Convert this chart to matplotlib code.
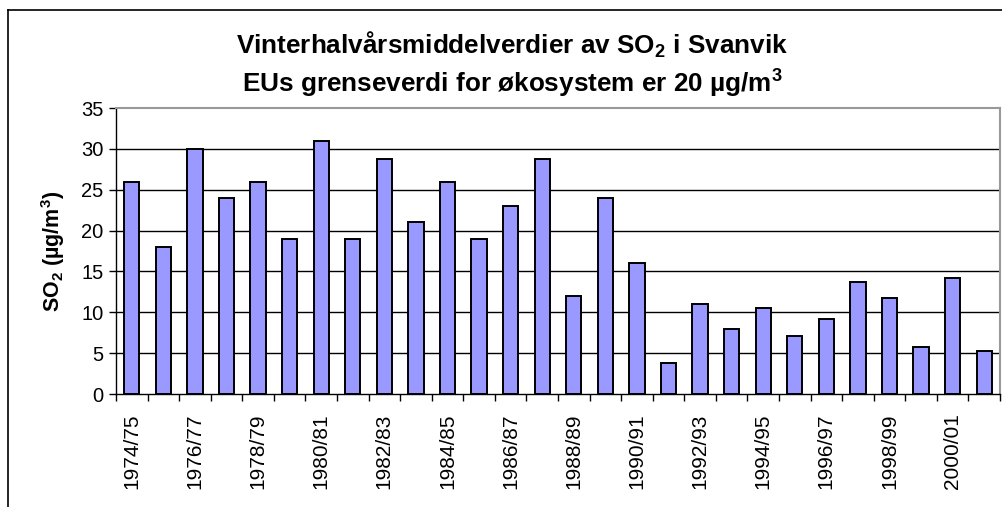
import matplotlib
matplotlib.use("Agg")
import matplotlib.pyplot as plt
from matplotlib.lines import Line2D
import numpy as np

# winter half-year means, SO2 in Svanvik
seasons = [f"{y}/{str(y + 1)[-2:]}" for y in range(1974, 2002)]
so2 = [26, 18, 30, 24, 26, 19, 31, 19, 28.8, 21, 26, 19, 23, 28.8,
       12, 24, 16, 3.8, 11, 8, 10.5, 7.1, 9.2, 13.7, 11.7, 5.8, 14.2, 5.3]
yticks = [0, 5, 10, 15, 20, 25, 30, 35]

plt.rcParams["font.family"] = ["Liberation Sans", "DejaVu Sans"]
plt.rcParams["mathtext.fontset"] = "custom"
plt.rcParams["mathtext.rm"] = "Liberation Sans"
plt.rcParams["mathtext.bf"] = "Liberation Sans:bold"

W, H = 1003, 507
fig = plt.figure(figsize=(W / 100, H / 100), dpi=100)
ax = fig.add_axes([116 / W, 1 - 394 / H, (1000 - 116) / W, (394 - 108) / H])

x = np.arange(len(so2))
ax.bar(x, so2, width=0.48, color="#9999FF", edgecolor="black", linewidth=1.4, zorder=3)

ax.set_xlim(-0.5, len(so2) - 0.5)
ax.set_ylim(0, 35)
ax.set_yticks(yticks)
ax.tick_params(axis="y", labelsize=14.5, length=5, width=1, direction="out", pad=4)
for v in yticks[1:-1]:
    ax.axhline(v, color="black", lw=1, zorder=1)

# Excel style: ticks between categories, labels on every other one
ax.set_xticks(np.arange(len(so2) + 1) - 0.5)
ax.set_xticklabels([])
ax.set_xticks(x[::2], minor=True)
ax.set_xticklabels(seasons[::2], minor=True, rotation=90, fontsize=15)
ax.tick_params(axis="x", which="major", length=5, width=1, direction="out")
ax.tick_params(axis="x", which="minor", length=0, pad=14)

for s in ["top", "right"]:
    ax.spines[s].set_color("#999999")
    ax.spines[s].set_linewidth(1.5)
for s in ["left", "bottom"]:
    ax.spines[s].set_color("black")
    ax.spines[s].set_linewidth(1)

ax.set_ylabel(r"SO$_\mathbf{2}$ (µg/m$^\mathbf{3}$)", fontsize=15.5, fontweight="bold", labelpad=10)

fig.text(512 / W, 1 - 53 / H, r"Vinterhalvårsmiddelverdier av SO$_\mathbf{2}$ i Svanvik",
         ha="center", va="baseline", fontsize=18.8, fontweight="bold")
fig.text(512 / W, 1 - 92 / H, r"EUs grenseverdi for økosystem er 20 µg/m$^\mathbf{3}$",
         ha="center", va="baseline", fontsize=18.8, fontweight="bold")

# outer chart frame (bottom edge falls outside the picture)
fig.add_artist(Line2D([8 / W, 8 / W], [0, 1 - 10 / H], color="black", lw=1.2))
fig.add_artist(Line2D([8 / W, 1], [1 - 10 / H, 1 - 10 / H], color="black", lw=1.2))

fig.savefig("out.png", dpi=100, facecolor="white")
